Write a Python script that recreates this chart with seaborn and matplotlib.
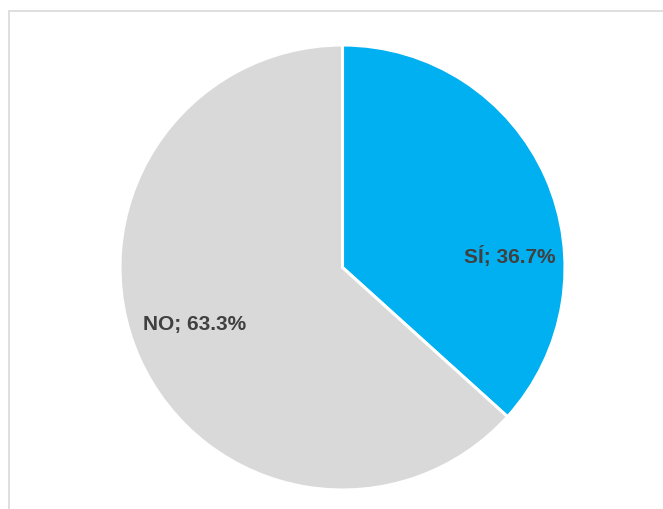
import matplotlib
matplotlib.use("Agg")
import matplotlib.pyplot as plt
import seaborn as sns
from matplotlib.patches import Rectangle

# Answer shares (percent)
categories = ["SÍ", "NO"]
shares = [36.7, 63.3]
colors = ["#00B0F0", "#D9D9D9"]

sns.set_theme(style="white")
plt.rcParams["font.family"] = ["Liberation Sans", "DejaVu Sans"]

W, H = 663, 510
fig = plt.figure(figsize=(W / 100, H / 100), dpi=100)
fig.patch.set_facecolor("white")

# chart-area frame
fig.patches.append(Rectangle((9 / W, -0.05), 1.0, (H - 12) / H + 0.05,
                             transform=fig.transFigure, fill=False,
                             edgecolor="#D9D9D9", linewidth=1.2))

ax = fig.add_axes([0, 0, 1, 1])
cx, cy, r = 342.5, 268.5, 222.5
ax.pie(shares, colors=colors, startangle=90, counterclock=False,
       radius=1.0, center=(0, 0),
       wedgeprops=dict(edgecolor="white", linewidth=2.2))
ax.set_xlim(-cx / r, (W - cx) / r)
ax.set_ylim(-(H - cy) / r, cy / r)
ax.set_aspect("equal")
ax.axis("off")

label_pos = {"SÍ": ((509.5 - cx) / r, (cy - 256.5) / r),
             "NO": ((194.5 - cx) / r, (cy - 325) / r)}
for cat, val in zip(categories, shares):
    x, y = label_pos[cat]
    ax.text(x, y, f"{cat}; {val:.1f}%", ha="center", va="center",
            fontsize=15, fontweight="bold", color="#404040")

fig.savefig("out.png", dpi=100, facecolor="white")
